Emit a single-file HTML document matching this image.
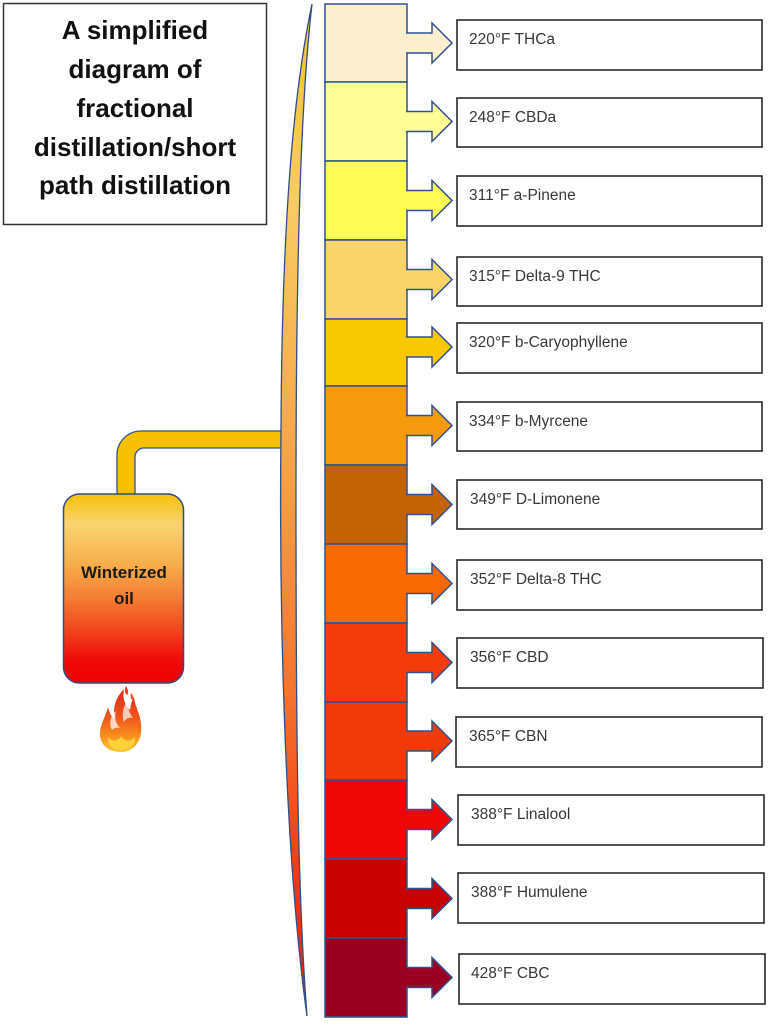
<!DOCTYPE html>
<html><head><meta charset="utf-8"><style>
html,body{margin:0;padding:0;background:#fff;}
svg{display:block;}
</style></head><body>
<svg width="771" height="1024" viewBox="0 0 771 1024" xmlns="http://www.w3.org/2000/svg">
<defs>
<linearGradient id="cres" x1="0" y1="0" x2="0" y2="1">
<stop offset="0" stop-color="#F6C22C"/>
<stop offset="0.2" stop-color="#F8CC62"/>
<stop offset="0.45" stop-color="#F6A448"/>
<stop offset="0.68" stop-color="#F4742E"/>
<stop offset="0.85" stop-color="#F03E14"/>
<stop offset="1" stop-color="#EC1A0A"/>
</linearGradient>
<linearGradient id="flask" x1="0" y1="0" x2="0" y2="1">
<stop offset="0" stop-color="#F5C00A"/>
<stop offset="0.16" stop-color="#F9D470"/>
<stop offset="0.38" stop-color="#F6AC48"/>
<stop offset="0.56" stop-color="#F57A32"/>
<stop offset="0.74" stop-color="#F03E1A"/>
<stop offset="0.88" stop-color="#EE0A08"/>
<stop offset="1" stop-color="#F00000"/>
</linearGradient>
<linearGradient id="fire" x1="0" y1="0" x2="0" y2="1">
<stop offset="0" stop-color="#E3261C"/>
<stop offset="0.45" stop-color="#F0561C"/>
<stop offset="0.75" stop-color="#F7901E"/>
<stop offset="1" stop-color="#FCCB2C"/>
</linearGradient>
</defs>

<!-- Title box -->
<rect x="3.5" y="3.5" width="263" height="221" fill="#fff" stroke="#333" stroke-width="1.5"/>
<g font-family="'Liberation Sans', sans-serif" font-weight="bold" font-size="26" fill="#111" text-anchor="middle">
<text x="135" y="39">A simplified</text>
<text x="135" y="78">diagram of</text>
<text x="135" y="117">fractional</text>
<text x="135" y="156">distillation/short</text>
<text x="135" y="194">path distillation</text>
</g>

<!-- Pipe -->
<path d="M117,494 V455 A24,24 0 0 1 141,431 H284 V448 H144 A9,9 0 0 0 135,457 V494" fill="#F7C100" stroke="#2F528F" stroke-width="1.3"/>

<!-- Crescent tube -->
<path d="M312,4 C296,80 282,200 281,430 C279,600 284,850 307,1016 C298,900 296,750 296,500 C296,250 301,100 312,4 Z" fill="url(#cres)" stroke="#2F4F8A" stroke-width="1.3"/>

<!-- Flask -->
<rect x="63.5" y="494" width="120" height="189" rx="16" ry="16" fill="url(#flask)" stroke="#2F4F7A" stroke-width="1.5"/>
<g font-family="'Liberation Sans', sans-serif" font-weight="bold" font-size="17" fill="#1a1a1a" text-anchor="middle">
<text x="124" y="578">Winterized</text>
<text x="124" y="604">oil</text>
</g>

<!-- Flame -->
<path d="M121,752 C107,752 99,743 100,732 C101,722 106,716 108,707 C110,714 112,718 115,719 C112,708 116,697 124,689 C122,700 126,706 130,710 C131,704 132,700 134,697 C135,707 140,713 141,724 C143,738 136,752 121,752 Z" fill="url(#fire)"/>
<path d="M126,686 C124,690 125,694 127,695 C129,693 128,689 126,686 Z" fill="#E8401C"/>
<path d="M131,693 C130,697 131,700 133,700 C134,698 133,695 131,693 Z" fill="#EE5A1C"/>
<path d="M112,730 C108,722 112,714 116,711 C114,718 116,724 120,728 C117,727 114,728 112,730 Z" fill="#fff" opacity="0.75"/>
<path d="M124,722 C121,714 124,705 128,700 C127,708 130,714 133,718 C130,717 126,718 124,722 Z" fill="#fff" opacity="0.7"/>
<path d="M121,750 C112,750 107,744 108,737 C112,742 118,742 121,736 C124,742 131,742 135,737 C136,744 130,750 121,750 Z" fill="#FDD23A"/>

<!-- Column segments -->
<g stroke="#2F528F" stroke-width="1.5">
<rect x="325" y="4" width="82" height="78" fill="#FBEFD0"/>
<rect x="325" y="82" width="82" height="79" fill="#FEFD96"/>
<rect x="325" y="161" width="82" height="79" fill="#FEFC55"/>
<rect x="325" y="240" width="82" height="79" fill="#F9D468"/>
<rect x="325" y="319" width="82" height="67" fill="#F8C800"/>
<rect x="325" y="386" width="82" height="79" fill="#F59A0C"/>
<rect x="325" y="465" width="82" height="79" fill="#C46206"/>
<rect x="325" y="544" width="82" height="79" fill="#F96A05"/>
<rect x="325" y="623" width="82" height="79" fill="#F43B0C"/>
<rect x="325" y="702" width="82" height="78" fill="#F13A0A"/>
<rect x="325" y="780" width="82" height="79" fill="#EE0606"/>
<rect x="325" y="859" width="82" height="79" fill="#C70000"/>
<rect x="325" y="938" width="82" height="79" fill="#990022"/>
</g>

<!-- Arrows -->
<g stroke="#2F528F" stroke-width="1.5" stroke-linejoin="miter">
<path d="M406,33 H432 V23 L452,43 L432,63 V53 H406" fill="#FBEFD0"/>
<path d="M406,111.5 H432 V101.5 L452,121.5 L432,141.5 V131.5 H406" fill="#FEFD96"/>
<path d="M406,190.5 H432 V180.5 L452,200.5 L432,220.5 V210.5 H406" fill="#FEFC55"/>
<path d="M406,269.5 H432 V259.5 L452,279.5 L432,299.5 V289.5 H406" fill="#F9D468"/>
<path d="M406,337 H432 V327 L452,347 L432,367 V357 H406" fill="#F8C800"/>
<path d="M406,415.5 H432 V405.5 L452,425.5 L432,445.5 V435.5 H406" fill="#F59A0C"/>
<path d="M406,494.5 H432 V484.5 L452,504.5 L432,524.5 V514.5 H406" fill="#C46206"/>
<path d="M406,573.5 H432 V563.5 L452,583.5 L432,603.5 V593.5 H406" fill="#F96A05"/>
<path d="M406,652.5 H432 V642.5 L452,662.5 L432,682.5 V672.5 H406" fill="#F43B0C"/>
<path d="M406,731 H432 V721 L452,741 L432,761 V751 H406" fill="#F13A0A"/>
<path d="M406,809.5 H432 V799.5 L452,819.5 L432,839.5 V829.5 H406" fill="#EE0606"/>
<path d="M406,888.5 H432 V878.5 L452,898.5 L432,918.5 V908.5 H406" fill="#C70000"/>
<path d="M406,967.5 H432 V957.5 L452,977.5 L432,997.5 V987.5 H406" fill="#990022"/>
</g>

<!-- Label boxes -->
<g fill="#fff" stroke="#2a2a2a" stroke-width="1.6">
<rect x="457" y="20" width="305" height="50"/>
<rect x="457" y="98" width="305" height="49"/>
<rect x="457" y="176" width="305" height="50"/>
<rect x="457" y="257" width="305" height="49"/>
<rect x="457" y="323" width="305" height="50"/>
<rect x="457" y="402" width="305" height="49"/>
<rect x="457" y="480" width="305" height="49"/>
<rect x="457" y="560" width="305" height="50"/>
<rect x="457" y="638" width="306" height="50"/>
<rect x="456" y="717" width="306" height="50"/>
<rect x="458" y="795" width="306" height="50"/>
<rect x="458" y="873" width="306" height="50"/>
<rect x="459" y="954" width="306" height="50"/>
</g>
<g font-family="'Liberation Sans', sans-serif" font-size="15.5" fill="#383838">
<text x="469" y="44">220°F THCa</text>
<text x="469" y="122">248°F CBDa</text>
<text x="469" y="200">311°F a-Pinene</text>
<text x="469" y="281">315°F Delta-9 THC</text>
<text x="469" y="347">320°F b-Caryophyllene</text>
<text x="469" y="426">334°F b-Myrcene</text>
<text x="470" y="504">349°F D-Limonene</text>
<text x="470" y="584">352°F Delta-8 THC</text>
<text x="470" y="662">356°F CBD</text>
<text x="469" y="741">365°F CBN</text>
<text x="471" y="819">388°F Linalool</text>
<text x="471" y="897">388°F Humulene</text>
<text x="471" y="978">428°F CBC</text>
</g>
</svg>
</body></html>
